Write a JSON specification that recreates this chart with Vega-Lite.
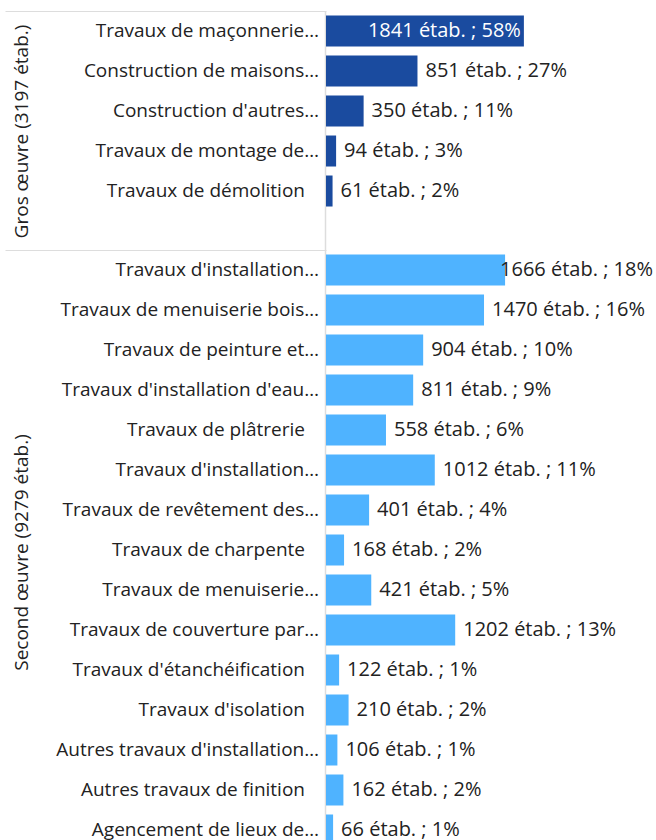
{
  "$schema": "https://vega.github.io/schema/vega-lite/v6.json",
  "background": "white",
  "padding": {"left": 5, "top": 11, "right": 0, "bottom": 0},
  "data": {
    "values": [
      {"groupe": "Gros œuvre", "ordre": 1, "libelle": "Travaux de maçonnerie…", "n": 1841, "pct": 58},
      {"groupe": "Gros œuvre", "ordre": 2, "libelle": "Construction de maisons…", "n": 851, "pct": 27},
      {"groupe": "Gros œuvre", "ordre": 3, "libelle": "Construction d'autres…", "n": 350, "pct": 11},
      {"groupe": "Gros œuvre", "ordre": 4, "libelle": "Travaux de montage de…", "n": 94, "pct": 3},
      {"groupe": "Gros œuvre", "ordre": 5, "libelle": "Travaux de démolition", "n": 61, "pct": 2},
      {"groupe": "Second œuvre", "ordre": 1, "libelle": "Travaux d'installation…", "n": 1666, "pct": 18},
      {"groupe": "Second œuvre", "ordre": 2, "libelle": "Travaux de menuiserie bois…", "n": 1470, "pct": 16},
      {"groupe": "Second œuvre", "ordre": 3, "libelle": "Travaux de peinture et…", "n": 904, "pct": 10},
      {"groupe": "Second œuvre", "ordre": 4, "libelle": "Travaux d'installation d'eau…", "n": 811, "pct": 9},
      {"groupe": "Second œuvre", "ordre": 5, "libelle": "Travaux de plâtrerie", "n": 558, "pct": 6},
      {"groupe": "Second œuvre", "ordre": 6, "libelle": "Travaux d'installation…", "n": 1012, "pct": 11},
      {"groupe": "Second œuvre", "ordre": 7, "libelle": "Travaux de revêtement des…", "n": 401, "pct": 4},
      {"groupe": "Second œuvre", "ordre": 8, "libelle": "Travaux de charpente", "n": 168, "pct": 2},
      {"groupe": "Second œuvre", "ordre": 9, "libelle": "Travaux de menuiserie…", "n": 421, "pct": 5},
      {"groupe": "Second œuvre", "ordre": 10, "libelle": "Travaux de couverture par…", "n": 1202, "pct": 13},
      {"groupe": "Second œuvre", "ordre": 11, "libelle": "Travaux d'étanchéification", "n": 122, "pct": 1},
      {"groupe": "Second œuvre", "ordre": 12, "libelle": "Travaux d'isolation", "n": 210, "pct": 2},
      {"groupe": "Second œuvre", "ordre": 13, "libelle": "Autres travaux d'installation…", "n": 106, "pct": 1},
      {"groupe": "Second œuvre", "ordre": 14, "libelle": "Autres travaux de finition", "n": 162, "pct": 2},
      {"groupe": "Second œuvre", "ordre": 15, "libelle": "Agencement de lieux de…", "n": 66, "pct": 1}
    ]
  },
  "spacing": 0,
  "vconcat": [
    {
      "bounds": "flush",
      "spacing": 0,
      "hconcat": [
        {
          "width": 321,
          "height": 239,
          "transform": [{"filter": "datum.groupe === 'Gros œuvre'"}],
          "encoding": {
            "y": {
              "field": "ordre", "type": "ordinal",
              "scale": {"type": "band", "paddingInner": 0.225, "paddingOuter": 0.6, "align": 0.094},
              "axis": {"orient": "left", "labels": false, "ticks": false, "domain": false,
                "title": "Gros œuvre (3197 étab.)", "titleX": 16, "titleY": 120, "titleAngle": -90,
                "titleBaseline": "middle", "titleAlign": "center", "titleFontSize": 19,
                "titleFontWeight": "normal", "titleColor": "#222222", "titleFont": "Open Sans"}
            },
            "x": {
              "datum": 1, "type": "quantitative",
              "scale": {"domain": [0, 1], "nice": false},
              "axis": {"orient": "top", "domain": true, "domainColor": "#dddddd", "ticks": false,
                "labels": false, "grid": false, "title": null}
            },
            "text": {"field": "libelle"}
          },
          "layer": [
            {
              "transform": [{"filter": "indexof(datum.libelle, '…') >= 0"}],
              "mark": {"type": "text", "align": "right", "baseline": "middle", "dx": -7, "fontSize": 19, "color": "#222222", "font": "Open Sans"}
            },
            {
              "transform": [{"filter": "indexof(datum.libelle, '…') < 0"}],
              "mark": {"type": "text", "align": "right", "baseline": "middle", "dx": -21, "fontSize": 19, "color": "#222222", "font": "Open Sans"}
            }
          ]
        },
        {
          "width": 330,
          "height": 239,
          "transform": [
            {"filter": "datum.groupe === 'Gros œuvre'"},
            {"calculate": "datum.n + ' étab. ; ' + datum.pct + '%'", "as": "etiquette"}
          ],
          "encoding": {
            "y": {
              "field": "ordre", "type": "ordinal",
              "scale": {"type": "band", "paddingInner": 0.225, "paddingOuter": 0.6, "align": 0.094},
              "axis": {"orient": "left", "labels": false, "ticks": false, "title": null, "domain": true,
                "domainColor": "#dddddd", "domainWidth": 1.5, "offset": 1}
            },
            "x": {"field": "n", "type": "quantitative", "scale": {"domain": [0, 3070], "nice": false}, "axis": null}
          },
          "layer": [
            {"mark": {"type": "bar", "color": "#1a4b9f"}},
            {
              "transform": [{"filter": "datum.n <= 1500"}],
              "mark": {"type": "text", "align": "left", "baseline": "middle", "dx": 8, "fontSize": 20, "color": "#222222", "font": "Open Sans"},
              "encoding": {"text": {"field": "etiquette"}}
            },
            {
              "transform": [{"filter": "datum.n > 1750"}],
              "mark": {"type": "text", "align": "right", "baseline": "middle", "dx": -3, "fontSize": 20, "color": "white", "font": "Open Sans"},
              "encoding": {"text": {"field": "etiquette"}}
            }
          ]
        }
      ]
    },
    {
      "bounds": "flush",
      "spacing": 0,
      "hconcat": [
        {
          "width": 321,
          "height": 600,
          "transform": [{"filter": "datum.groupe === 'Second œuvre'"}],
          "encoding": {
            "y": {
              "field": "ordre", "type": "ordinal",
              "scale": {"type": "band", "paddingInner": 0.225, "paddingOuter": 0.1125},
              "axis": {"orient": "left", "labels": false, "ticks": false, "domain": false,
                "title": "Second œuvre (9279 étab.)", "titleX": 16, "titleY": 302, "titleAngle": -90,
                "titleBaseline": "middle", "titleAlign": "center", "titleFontSize": 19,
                "titleFontWeight": "normal", "titleColor": "#222222", "titleFont": "Open Sans"}
            },
            "x": {
              "datum": 1, "type": "quantitative",
              "scale": {"domain": [0, 1], "nice": false},
              "axis": {"orient": "top", "domain": true, "domainColor": "#dddddd", "ticks": false,
                "labels": false, "grid": false, "title": null}
            },
            "text": {"field": "libelle"}
          },
          "layer": [
            {
              "transform": [{"filter": "indexof(datum.libelle, '…') >= 0"}],
              "mark": {"type": "text", "align": "right", "baseline": "middle", "dx": -7, "fontSize": 19, "color": "#222222", "font": "Open Sans"}
            },
            {
              "transform": [{"filter": "indexof(datum.libelle, '…') < 0"}],
              "mark": {"type": "text", "align": "right", "baseline": "middle", "dx": -21, "fontSize": 19, "color": "#222222", "font": "Open Sans"}
            }
          ]
        },
        {
          "width": 330,
          "height": 600,
          "transform": [
            {"filter": "datum.groupe === 'Second œuvre'"},
            {"calculate": "datum.n + ' étab. ; ' + datum.pct + '%'", "as": "etiquette"}
          ],
          "encoding": {
            "y": {
              "field": "ordre", "type": "ordinal",
              "scale": {"type": "band", "paddingInner": 0.225, "paddingOuter": 0.1125},
              "axis": {"orient": "left", "labels": false, "ticks": false, "title": null, "domain": true,
                "domainColor": "#dddddd", "domainWidth": 1.5, "offset": 1}
            },
            "x": {"field": "n", "type": "quantitative", "scale": {"domain": [0, 3070], "nice": false}, "axis": null}
          },
          "layer": [
            {"mark": {"type": "bar", "color": "#4fb3ff"}},
            {
              "transform": [{"filter": "datum.n <= 1500"}],
              "mark": {"type": "text", "align": "left", "baseline": "middle", "dx": 8, "fontSize": 20, "color": "#222222", "font": "Open Sans"},
              "encoding": {"text": {"field": "etiquette"}}
            },
            {
              "transform": [{"filter": "datum.n > 1500 && datum.n <= 1750"}],
              "mark": {"type": "text", "align": "right", "baseline": "middle", "dx": -3, "fontSize": 20, "color": "#222222", "font": "Open Sans"},
              "encoding": {"x": {"datum": 3070, "type": "quantitative"}, "text": {"field": "etiquette"}}
            }
          ]
        }
      ]
    }
  ],
  "config": {
    "view": {"stroke": null},
    "font": "Open Sans"
  }
}
